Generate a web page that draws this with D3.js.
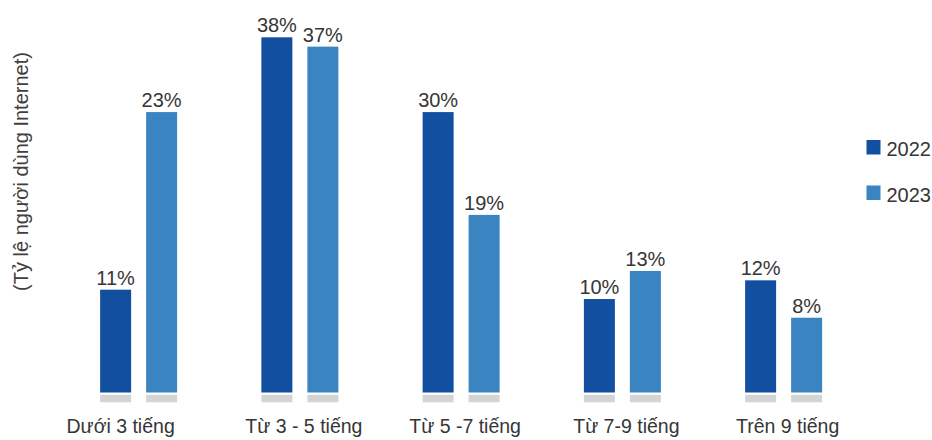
<!DOCTYPE html>
<html lang='vi'>

<head>
    <meta charset="utf-8">
    <title>bar chart</title>
    <script src="https://cdn.jsdelivr.net/npm/d3@7"></script>
    <style>
        body { margin: 0; background: white; }
    </style>
</head>

<body>
    <div id="chart"></div>
</body>
<script>
// dữ liệu
categories = ["Dưới 3 tiếng", "Từ 3 - 5 tiếng", "Từ 5 -7 tiếng", "Từ 7-9 tiếng", "Trên 9 tiếng"];
years = ["2022", "2023"];
values2022 = [11, 38, 30, 10, 12];
values2023 = [30, 37, 19, 13, 8];   // chiều cao cột
labels2022 = ["11%", "38%", "30%", "10%", "12%"];
labels2023 = ["23%", "37%", "19%", "13%", "8%"];
colors = ["#134fa0", "#3a84c1"];
yTitleText = "(Tỷ lệ người dùng Internet)";

width = 932;
height = 440;
font = "'Liberation Sans', Arial, sans-serif";

data = categories.map((c, i) => ({
    category: c,
    bars: [
        {year: years[0], value: values2022[i], label: labels2022[i]},
        {year: years[1], value: values2023[i], label: labels2023[i]}
    ]
}));

// thang đo
x0 = d3.scaleBand()
    .domain(categories)
    .range([58, 864.25]);

x1 = d3.scaleBand()
    .domain(years)
    .range([0, 77])
    .paddingInner(0.326);

y = d3.scaleLinear()
    .domain([0, 38])
    .range([392.5, 37.3]);

color = d3.scaleOrdinal()
    .domain(years)
    .range(colors);

const svg = d3.select("#chart").append("svg")
    .attr("width", width)
    .attr("height", height)
    .attr("font-family", font)
    .attr("fill", "#363636");

const group = svg.append("g")
  .selectAll("g")
  .data(data)
  .join("g")
    .attr("transform", d => `translate(${x0(d.category) + x0.bandwidth() / 2 - 38.5},0)`);

// nền xám dưới cột
group.selectAll("rect.base")
  .data(d => d.bars)
  .join("rect")
    .attr("class", "base")
    .attr("x", d => x1(d.year))
    .attr("y", y(0) + 2.3)
    .attr("width", x1.bandwidth())
    .attr("height", 7.5)
    .attr("fill", "#d4d4d4");

group.selectAll("rect.bar")
  .data(d => d.bars)
  .join("rect")
    .attr("class", "bar")
    .attr("x", d => x1(d.year))
    .attr("y", d => y(d.value))
    .attr("width", x1.bandwidth())
    .attr("height", d => y(0) - y(d.value))
    .attr("fill", d => color(d.year));

group.selectAll("text.value")
  .data(d => d.bars)
  .join("text")
    .attr("class", "value")
    .attr("x", d => x1(d.year) + x1.bandwidth() / 2)
    .attr("y", d => y(d.value) - 5)
    .attr("text-anchor", "middle")
    .attr("font-size", 20)
    .text(d => d.label);

// nhãn trục x
svg.append("g")
  .selectAll("text")
  .data(categories)
  .join("text")
    .attr("x", (d, i) => x0(d) + x0.bandwidth() / 2 + (i === 0 ? -18 : 4))
    .attr("y", 433)
    .attr("text-anchor", "middle")
    .attr("font-size", 19.5)
    .text(d => d);

// tiêu đề trục y
svg.append("text")
    .attr("transform", "translate(28,171.5) rotate(-90)")
    .attr("text-anchor", "middle")
    .attr("font-size", 20)
    .attr("fill", "#404040")
    .text(yTitleText);

// chú thích
const legend = svg.append("g")
  .selectAll("g")
  .data(years)
  .join("g")
    .attr("transform", (d, i) => `translate(866.5,${140 + i * 45.5})`);

legend.append("rect")
    .attr("width", 14)
    .attr("height", 14.5)
    .attr("fill", d => color(d));

legend.append("text")
    .attr("x", 20)
    .attr("y", 16)
    .attr("font-size", 20)
    .text(d => d);
</script>

</html>
